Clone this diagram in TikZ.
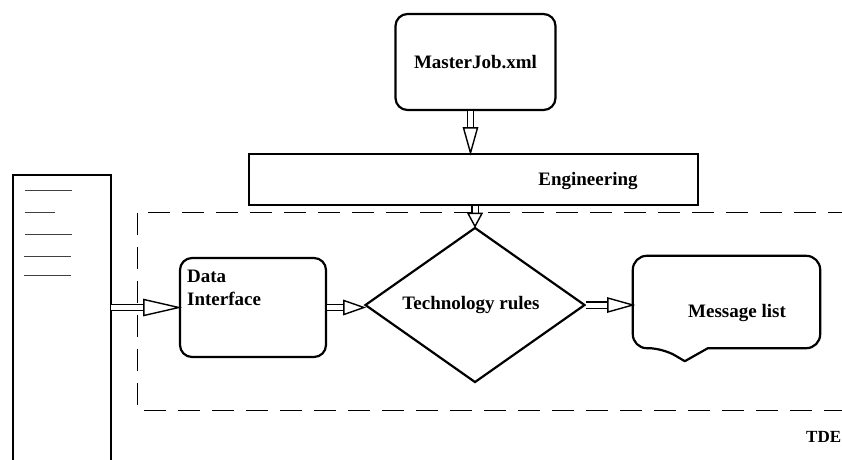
\documentclass[tikz,border=0pt]{standalone}
\usepackage{fontspec}
\setmainfont{Liberation Serif}
\usetikzlibrary{shapes.geometric}
\begin{document}
\begin{tikzpicture}[x=1pt,y=-1pt,
  box/.style={draw, line width=2.2pt, rounded corners=12pt, inner sep=0pt},
  txt/.style={font=\fontsize{19}{23}\selectfont\bfseries, inner sep=0pt},
  stem/.style={draw, double, double distance=5pt, line width=1.4pt},
  ahead/.style={draw, fill=white, line width=1.4pt, line join=miter},
  tick/.style={draw=black!75, line width=0.9pt}]
\useasboundingbox (0,0) rectangle (842,459);
\clip (0,0) rectangle (842,459);

% dashed TDE frame
\draw[line width=1pt, dash pattern=on 22pt off 12pt] (850,212) -- (137,212) -- (137,410) -- (850,410);
\node[txt, font=\fontsize{17}{20}\selectfont\bfseries, anchor=west] (tde) at (806,437) {TDE};

% left panel
\node[minimum width=98pt, minimum height=300pt, inner sep=0pt] (panel) at (62,325) {};
\draw[line width=2.2pt] (panel.south west) -- (panel.north west) -- (panel.north east) -- (panel.south east);
\draw[tick] ([xshift=12pt, yshift=-16pt]panel.north west) -- ++(47,0);
\draw[tick] ([xshift=12pt, yshift=-38pt]panel.north west) -- ++(30,0);
\draw[tick] ([xshift=12pt, yshift=-60pt]panel.north west) -- ++(47,0);
\draw[tick] ([xshift=11pt, yshift=-82pt]panel.north west) -- ++(47,0);
\draw[tick] ([xshift=11pt, yshift=-101pt]panel.north west) -- ++(47,0);

% MasterJob
\node[box, minimum width=160pt, minimum height=96pt, txt] (mj) at (475.5,62) {MasterJob.xml};

% Engineering
\node[draw, line width=2.2pt, minimum width=449pt, minimum height=51pt, inner sep=0pt] (eng) at (473.5,179.5) {};
\node[txt] (engl) at (588,181) {Engineering};

% Data Interface
\node[box, minimum width=146pt, minimum height=99pt] (di) at (253,307.5) {};
\node[txt, anchor=north west, align=left] (dil) at (187,270) {Data\\Interface};

% Technology rules
\node[diamond, draw, line width=2.2pt, minimum width=220pt, minimum height=155pt, inner sep=0pt] (tr) at (475,305) {};
\node[txt] (trl) at (471,305) {Technology rules};

% Message list callout
\node[minimum width=187pt, minimum height=92pt, inner sep=0pt] (ml) at (726.5,302) {};
\draw[line width=2.2pt, line join=round] ([xshift=52pt,yshift=-13pt]ml.south west) -- ([xshift=75pt]ml.south west)
  [rounded corners=14pt] -- (ml.south east) -- (ml.north east) -- (ml.north west) -- (ml.south west)
  -- ([xshift=30pt]ml.south west) [sharp corners] -- cycle;
\node[txt] (mll) at (737,313) {Message list};

% connectors
\draw[stem, shorten >=33pt] (panel.east |- di.west) -- (di.west);
\draw[ahead] (di.west) -- ++(-35,-8) -- ++(0,16) -- cycle;

\draw[stem, shorten >=19pt] (di.east) -- (di.east -| tr.west);
\draw[ahead] (di.east -| tr.west) -- ++(-20,-7) -- ++(0,14) -- cycle;

\draw[stem, shorten >=24pt] (tr.east) -- (tr.east -| ml.west);
\draw[ahead] (tr.east -| ml.west) -- ++(-25,-7) -- ++(0,14) -- cycle;

\draw[stem, shorten >=24pt] ([xshift=-5pt]mj.south) -- ([xshift=-5pt]mj.south |- eng.north);
\draw[ahead] ([xshift=-5pt]mj.south |- eng.north) -- ++(-7,-25) -- ++(14,0) -- cycle;

\draw[stem, shorten >=12pt] (tr.north |- eng.south) -- (tr.north);
\draw[ahead] (tr.north) -- ++(-7,-13) -- ++(14,0) -- cycle;
\end{tikzpicture}
\end{document}
